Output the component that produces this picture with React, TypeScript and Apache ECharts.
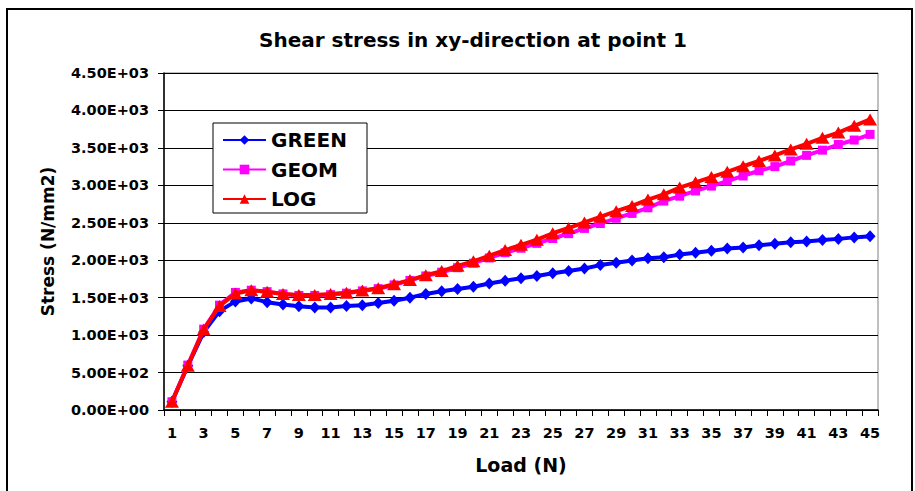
import React, { useEffect, useRef } from "react";
import * as echarts from "echarts";

const categories: string[] = Array.from({ length: 45 }, (_, i) => String(i + 1));

const greenValues: number[] = [
  110, 590, 1040, 1320, 1450, 1490, 1440, 1410, 1385, 1370, 1370, 1390, 1400, 1430, 1460,
  1500, 1550, 1585, 1615, 1645, 1690, 1725, 1760, 1790, 1825, 1855, 1890, 1935, 1965, 1995,
  2025, 2040, 2075, 2100, 2125, 2155, 2170, 2200, 2220, 2240, 2250, 2270, 2285, 2305, 2320,
];

const geomValues: number[] = [
  110, 600, 1080, 1400, 1570, 1600, 1580, 1550, 1530, 1530, 1540, 1560, 1590, 1620, 1670,
  1730, 1790, 1840, 1900, 1960, 2030, 2100, 2160, 2225, 2290, 2355, 2425, 2490, 2560, 2625,
  2700, 2790, 2855, 2925, 2990, 3055, 3125, 3195, 3250, 3325, 3400, 3470, 3545, 3605, 3680,
];

const logValues: number[] = [
  110, 590, 1075, 1390, 1555, 1600, 1580, 1550, 1535, 1535, 1550, 1565, 1595, 1625, 1680,
  1735, 1800, 1855, 1925, 1985, 2060, 2135, 2205, 2275, 2360, 2430, 2505, 2580, 2655, 2725,
  2810, 2880, 2970, 3040, 3110, 3180, 3255, 3325, 3400, 3480, 3555, 3635, 3705, 3795, 3880,
];

const seriesNames: string[] = ["GREEN", "GEOM", "LOG"];
const titleText = "Shear stress in xy-direction at point 1";
const xName = "Load (N)";
const yName = "Stress (N/mm2)";

const FONT = "DejaVu Sans";

function sci(v: number): string {
  const [m, e] = v.toExponential(2).split("e");
  const n = parseInt(e, 10);
  const sign = n < 0 ? "-" : "+";
  return `${m}E${sign}${String(Math.abs(n)).padStart(2, "0")}`;
}

export default function App() {
  const ref = useRef<HTMLDivElement>(null);

  useEffect(() => {
    if (!ref.current) return;
    const chart = echarts.init(ref.current, undefined, { renderer: "svg" });
    chart.setOption({
      animation: false,
      backgroundColor: "#ffffff",
      title: {
        text: titleText,
        left: 468,
        top: 25,
        textAlign: "center",
        textStyle: { fontFamily: FONT, fontWeight: "bold", fontSize: 20, color: "#000" },
      },
      graphic: [
        {
          type: "rect",
          shape: { x: 7, y: 9, width: 905, height: 500 },
          style: { fill: "none", stroke: "#000", lineWidth: 2 },
          z: 0,
          silent: true,
        },
        {
          type: "rect",
          shape: { x: 213, y: 123, width: 154, height: 90 },
          style: { fill: "#fff", stroke: "#000", lineWidth: 1 },
          z: 5,
          silent: true,
        },
      ],
      legend: {
        orient: "vertical",
        left: 222,
        top: 130,
        padding: 0,
        itemWidth: 43,
        itemHeight: 12,
        itemGap: 9.5,
        z: 6,
        textStyle: { fontFamily: FONT, fontWeight: "bold", fontSize: 20, lineHeight: 20, color: "#000" },
        data: seriesNames,
      },
      grid: {
        left: 164,
        right: 37,
        top: 73,
        bottom: 81,
        show: true,
        borderColor: "#808080",
        borderWidth: 1,
        backgroundColor: "#ffffff",
      },
      xAxis: {
        type: "category",
        data: categories,
        boundaryGap: true,
        name: xName,
        nameLocation: "middle",
        nameGap: 45,
        nameTextStyle: { fontFamily: FONT, fontWeight: "bold", fontSize: 19, color: "#000" },
        axisLine: { lineStyle: { color: "#000", width: 1.5 } },
        axisTick: { show: true, interval: 0, length: 6, lineStyle: { color: "#000" } },
        axisLabel: {
          interval: 1,
          margin: 15,
          fontFamily: FONT,
          fontWeight: "bold",
          fontSize: 14.5,
          color: "#000",
        },
        splitLine: { show: false },
      },
      yAxis: {
        type: "value",
        min: 0,
        max: 4500,
        interval: 500,
        name: yName,
        nameLocation: "middle",
        nameGap: 108,
        nameTextStyle: { fontFamily: FONT, fontWeight: "bold", fontSize: 17, color: "#000" },
        axisLine: { show: true, lineStyle: { color: "#000", width: 1.5 } },
        axisTick: { show: true, length: 6, lineStyle: { color: "#000" } },
        axisLabel: {
          margin: 15,
          fontFamily: FONT,
          fontWeight: "bold",
          fontSize: 14.5,
          color: "#000",
          formatter: (v: number) => sci(v),
        },
        splitLine: { show: true, lineStyle: { color: "#000", width: 1 } },
      },
      series: [
        {
          name: seriesNames[0],
          type: "line",
          data: greenValues,
          symbol: "diamond",
          symbolSize: [11, 12],
          showAllSymbol: true,
          itemStyle: { color: "#0000ff" },
          lineStyle: { color: "#0000ff", width: 4 },
          z: 2,
        },
        {
          name: seriesNames[1],
          type: "line",
          data: geomValues,
          symbol: "rect",
          symbolSize: 9,
          showAllSymbol: true,
          itemStyle: { color: "#ff00ff" },
          lineStyle: { color: "#ff00ff", width: 4 },
          z: 3,
        },
        {
          name: seriesNames[2],
          type: "line",
          data: logValues,
          symbol: "triangle",
          symbolSize: [14, 12],
          showAllSymbol: true,
          itemStyle: { color: "#ff0000" },
          lineStyle: { color: "#ff0000", width: 4 },
          z: 4,
        },
      ],
    });
    return () => chart.dispose();
  }, []);

  return (
    <div
      ref={ref}
      style={{ position: "fixed", left: 0, top: 0, width: 915, height: 491 }}
    />
  );
}
